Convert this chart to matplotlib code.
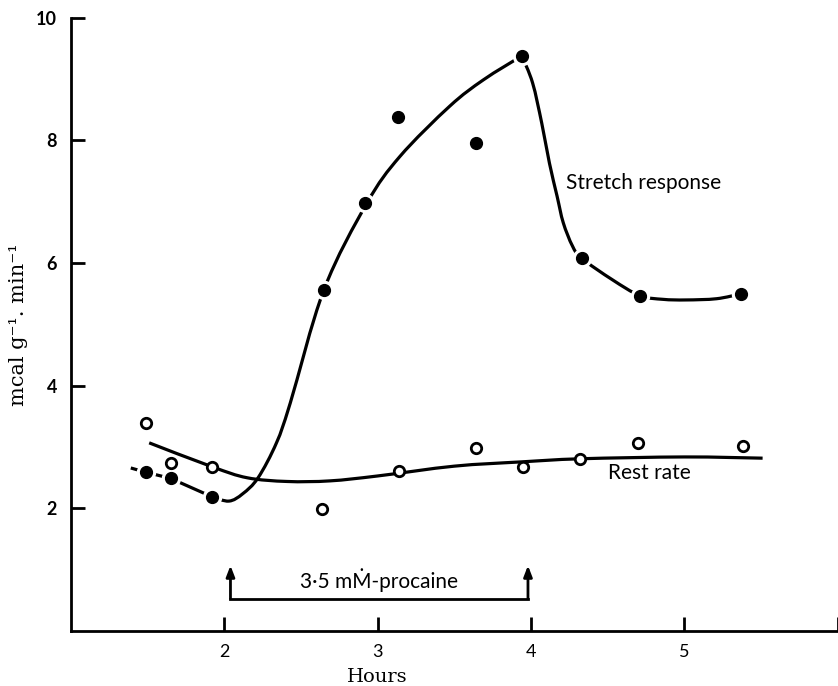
import matplotlib
matplotlib.use("Agg")
import matplotlib.pyplot as plt
from matplotlib.path import Path
from matplotlib.patches import PathPatch

# ---- data ----
# Stretch response (filled circles)
stretch_x = [1.49, 1.65, 1.92, 2.65, 2.92, 3.13, 3.64, 3.94, 4.33, 4.71, 5.37]
stretch_y = [2.59, 2.49, 2.19, 5.57, 6.98, 8.38, 7.96, 9.37, 6.08, 5.47, 5.50]

# Rest rate (open circles)
rest_x = [1.49, 1.65, 1.92, 2.64, 3.14, 3.64, 3.95, 4.32, 4.70, 5.38]
rest_y = [3.40, 2.74, 2.67, 1.99, 2.61, 2.99, 2.68, 2.81, 3.06, 3.02]

# Hand-drawn fitted curves: points
stretch_start_x = [1.39, 1.49, 1.65, 1.92]
stretch_start_y = [2.66, 2.59, 2.49, 2.19]
stretch_rise_x = [1.92, 2.03, 2.12, 2.22, 2.34, 2.43, 2.65, 2.93, 3.145,
                  3.47, 3.69, 3.94]
stretch_rise_y = [2.19, 2.12, 2.24, 2.50, 3.07, 3.72, 5.57, 6.98, 7.74,
                  8.56, 8.99, 9.38]
stretch_fall_x = [3.94, 4.01, 4.07, 4.12, 4.17, 4.21, 4.27, 4.33, 4.53, 4.71, 4.86,
                  5.01, 5.21, 5.37]
stretch_fall_y = [9.38, 8.94, 8.28, 7.63, 7.09, 6.66, 6.28, 6.08, 5.73, 5.47, 5.41,
                  5.40, 5.42, 5.50]

rest_fit_x = [1.51, 1.92, 2.15, 2.41, 2.69, 3.00, 3.50, 3.94, 4.32, 5.00, 5.51]
rest_fit_y = [3.07, 2.68, 2.50, 2.44, 2.45, 2.53, 2.69, 2.76, 2.81, 2.84, 2.82]

# Procaine application period
procaine_start = 2.04
procaine_end = 3.98

x_ticks = [2, 3, 4, 5, 6]
x_tick_labels = ["2", "3", "4", "5", ""]
y_ticks = [2, 4, 6, 8, 10]
y_tick_labels = ["2", "4", "6", "8", "10"]


def smooth_path(xs, ys):
    """Bezier path through the read points (Catmull-Rom tangents)."""
    pts = list(zip(xs, ys))
    verts = [pts[0]]
    codes = [Path.MOVETO]
    n = len(pts)
    for i in range(n - 1):
        p0 = pts[i - 1] if i > 0 else pts[i]
        p1 = pts[i]
        p2 = pts[i + 1]
        p3 = pts[i + 2] if i + 2 < n else pts[i + 1]
        c1 = (p1[0] + (p2[0] - p0[0]) / 6, p1[1] + (p2[1] - p0[1]) / 6)
        c2 = (p2[0] - (p3[0] - p1[0]) / 6, p2[1] - (p3[1] - p1[1]) / 6)
        verts += [c1, c2, p2]
        codes += [Path.CURVE4, Path.CURVE4, Path.CURVE4]
    return Path(verts, codes)


# ---- figure ----
fig = plt.figure(figsize=(8.38, 6.86), dpi=100)
ax = fig.add_axes([0.0847, 0.0800, 0.915, 0.894])
ax.set_xlim(1.0, 6.0)
ax.set_ylim(0, 10)

lw = 2.3
ax.plot(stretch_start_x, stretch_start_y, color="black", lw=lw, zorder=2,
        solid_capstyle="butt")
for xs, ys in ((stretch_rise_x, stretch_rise_y), (stretch_fall_x, stretch_fall_y),
               (rest_fit_x, rest_fit_y)):
    ax.add_patch(PathPatch(smooth_path(xs, ys), facecolor="none", edgecolor="black",
                           lw=lw, zorder=2, capstyle="butt", joinstyle="round"))

# white halo around filled points (gaps in the drawn line)
ax.plot(stretch_x, stretch_y, linestyle="none", marker="o", ms=13,
        mfc="white", mec="white", zorder=3, clip_on=False)
ax.plot(stretch_x, stretch_y, linestyle="none", marker="o", ms=8.5,
        mfc="black", mec="black", zorder=4, clip_on=False)
ax.plot(rest_x, rest_y, linestyle="none", marker="o", ms=7.5,
        mfc="white", mec="black", mew=2.0, zorder=4, clip_on=False)

# labels on curves
lab_font = ["Lato", "DejaVu Sans"]
ax.text(4.23, 7.31, "Stretch response", fontsize=15, family=lab_font,
        ha="left", va="center")
ax.text(4.50, 2.58, "Rest rate", fontsize=15, family=lab_font,
        ha="left", va="center")

# procaine bracket
ax.plot([procaine_start, procaine_end], [0.53, 0.53], color="black", lw=2.0,
        zorder=2, solid_capstyle="projecting")
for xa in (procaine_start, procaine_end):
    ax.annotate("", xy=(xa, 1.07), xytext=(xa, 0.53),
                arrowprops=dict(arrowstyle="-|>,head_length=0.65,head_width=0.25",
                                color="black", lw=2.0, shrinkA=0, shrinkB=0))
ax.text((procaine_start + procaine_end) / 2, 0.83, "3·5 mṀ-procaine",
        fontsize=15, family=lab_font, ha="center", va="center")

# axes styling
for s in ("top", "right"):
    ax.spines[s].set_visible(False)
for s in ("left", "bottom"):
    ax.spines[s].set_linewidth(2.0)

ax.set_xticks(x_ticks)
ax.set_xticklabels(x_tick_labels, family="Lato", fontsize=13)
ax.set_yticks(y_ticks)
ax.set_yticklabels(y_tick_labels, family="Lato", fontsize=13, fontweight="bold")
ax.tick_params(axis="both", direction="in", length=10, width=2.0)
ax.tick_params(axis="x", pad=9)
ax.tick_params(axis="y", pad=10)

ax.set_ylabel("mcal g⁻¹. min⁻¹", family="DejaVu Serif", fontsize=15)
ax.yaxis.set_label_coords(-0.056, 0.5)
ax.set_xlabel("Hours", family="DejaVu Serif", fontsize=14)
ax.xaxis.set_label_coords(0.40, -0.060)

fig.savefig("out.png", dpi=100)
